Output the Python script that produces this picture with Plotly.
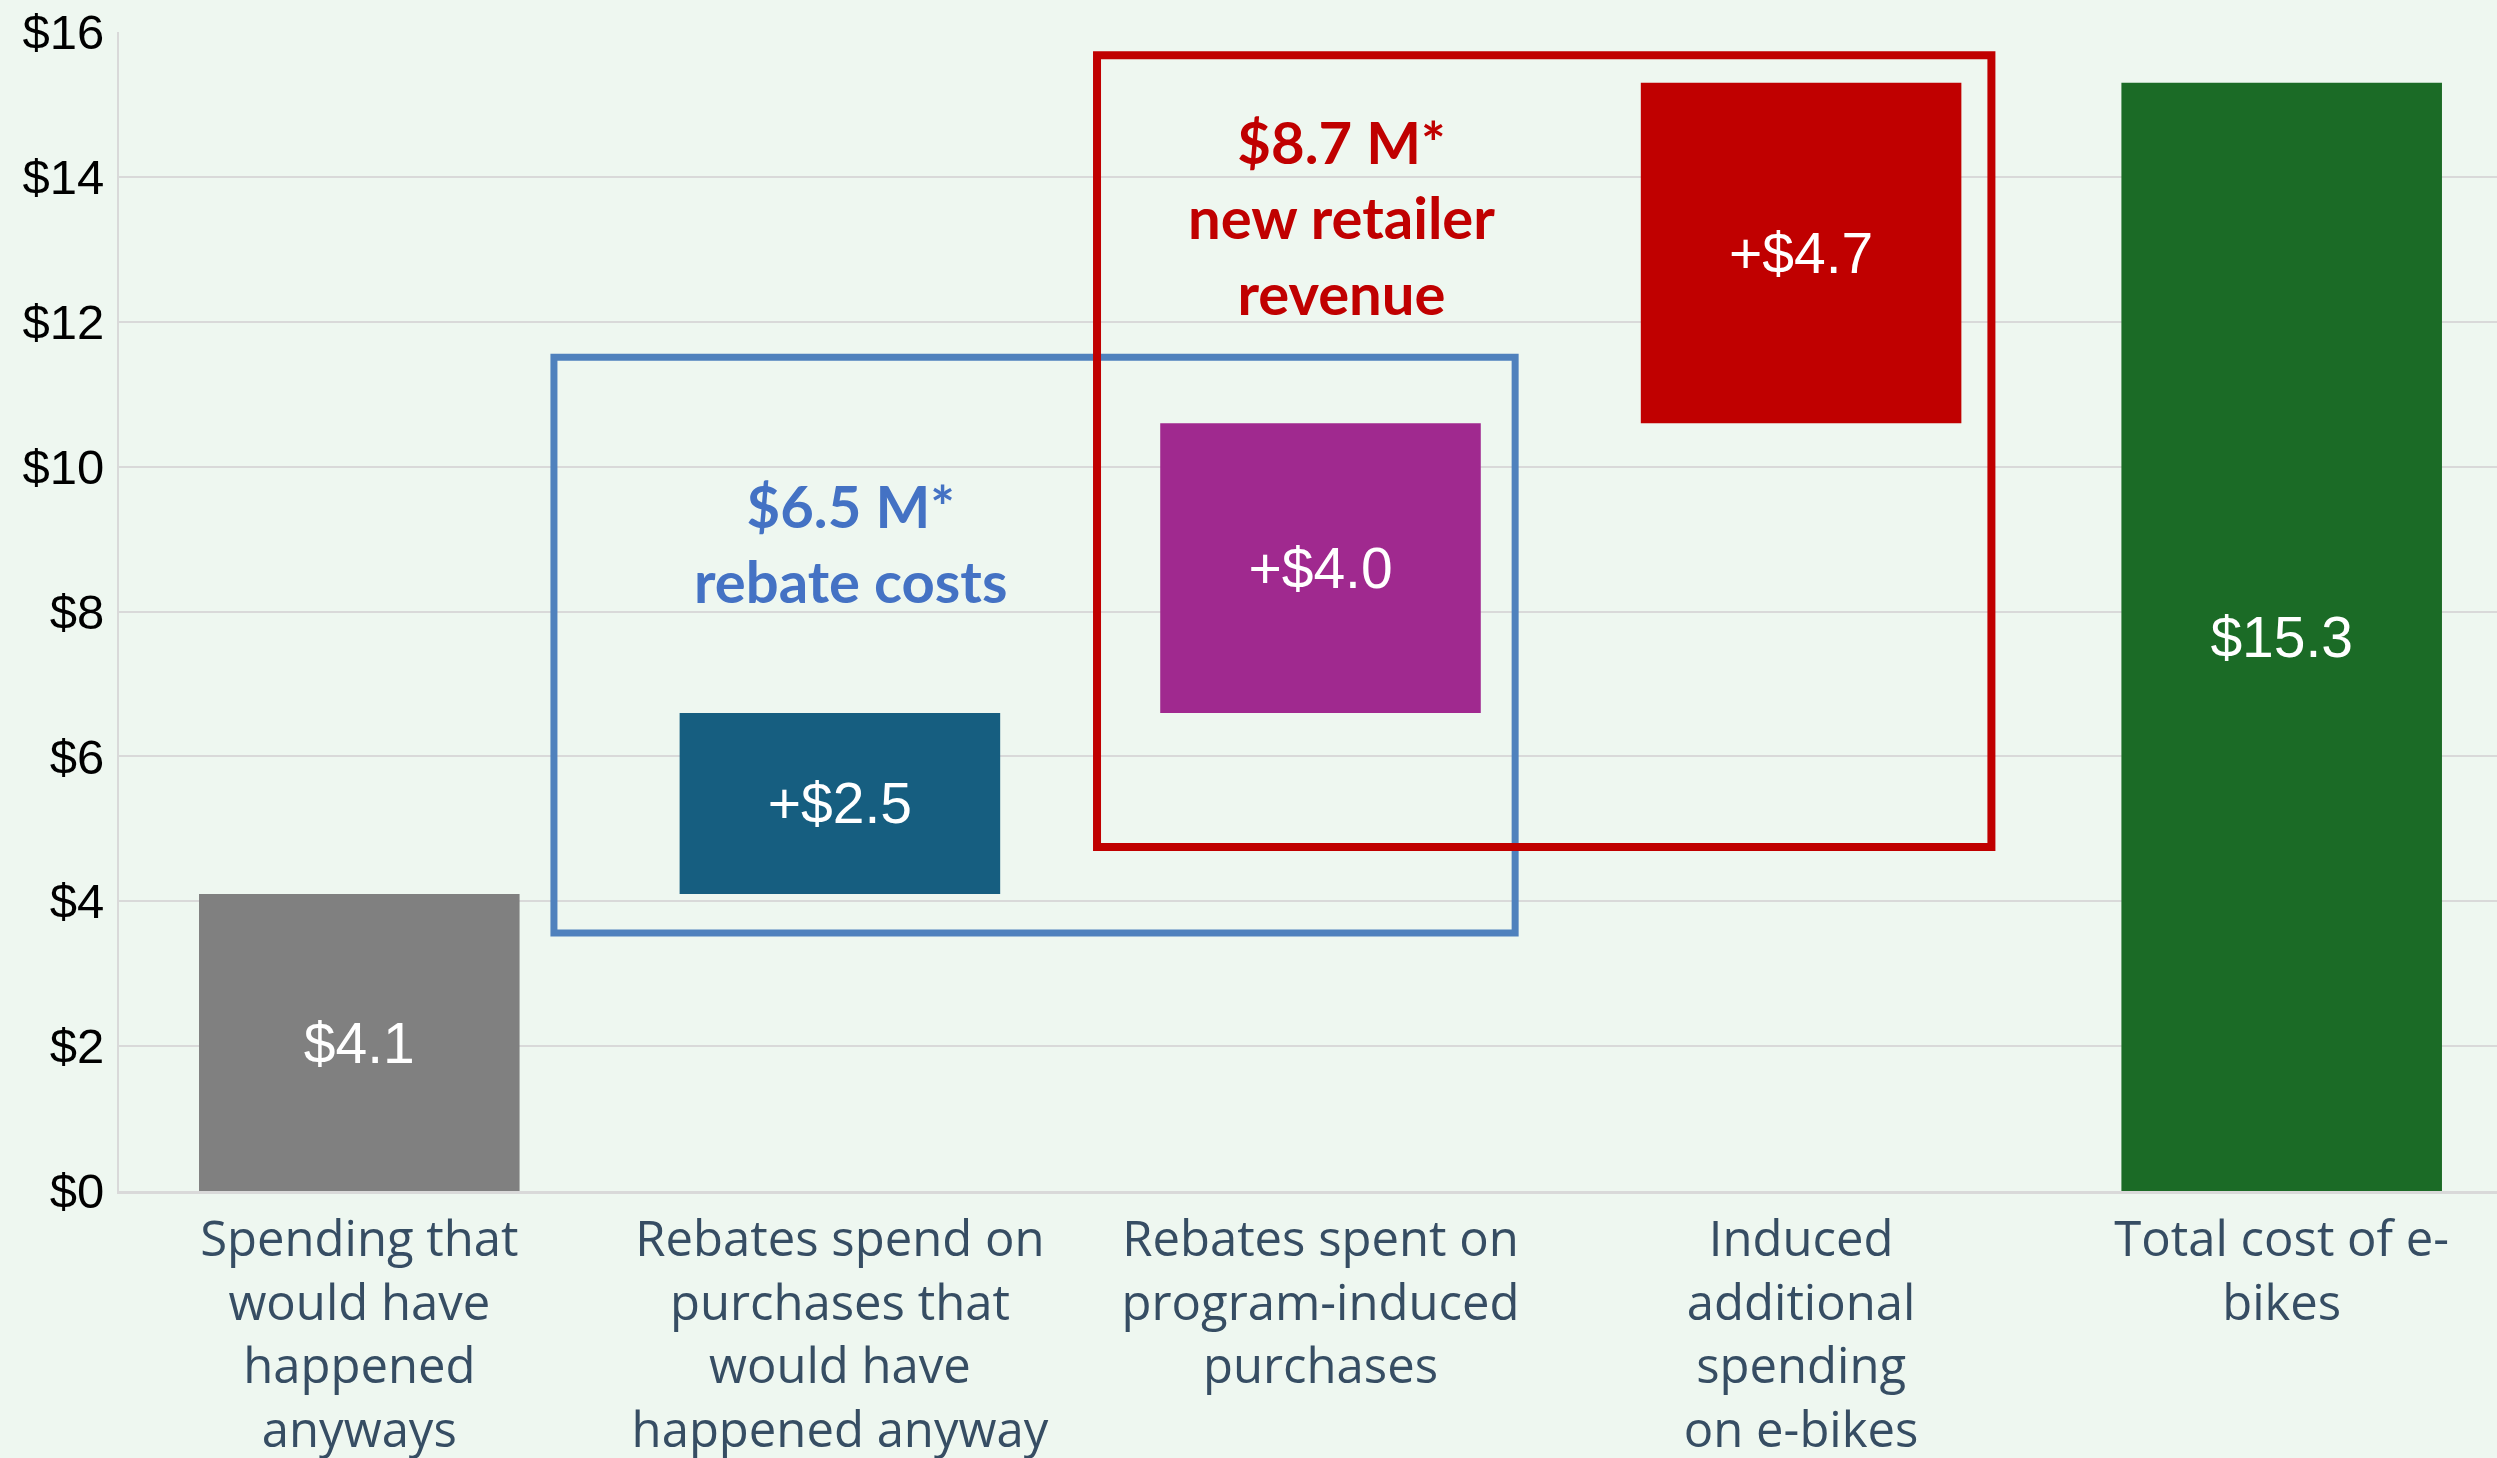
import plotly.graph_objects as go

# ---- data ----
categories = [
    "Spending that<br>would have<br>happened<br>anyways",
    "Rebates spend on<br>purchases that<br>would have<br>happened anyway",
    "Rebates spent on<br>program-induced<br>purchases",
    "Induced<br>additional<br>spending<br>on e-bikes",
    "Total cost of e-<br>bikes",
]
values = [4.1, 2.5, 4.0, 4.7, 15.3]
kinds = ["start", "step", "step", "step", "total"]
bar_colors = ["#808080", "#165E80", "#A0298F", "#C00000", "#1B6B26"]
y_ticks = [0, 2, 4, 6, 8, 10, 12, 14, 16]
y_ticktext = ["$" + str(v) for v in y_ticks]

# waterfall bases
bases = []
running = 0.0
for v, k in zip(values, kinds):
    if k == "step":
        bases.append(running)
        running += v
    elif k == "start":
        bases.append(0)
        running = v
    else:
        bases.append(0)
labels = [("+$%.1f" if k == "step" else "$%.1f") % v for v, k in zip(values, kinds)]

BG = "#EEF7F0"

fig = go.Figure()
fig.add_trace(go.Bar(
    x=categories, y=values, base=bases,
    marker=dict(color=bar_colors, line=dict(width=0)),
    text=labels, textposition="inside", insidetextanchor="middle",
    textfont=dict(family="Liberation Sans, Arial, sans-serif", size=57, color="white"),
    textangle=0, constraintext="none",
    width=0.667, hoverinfo="skip", showlegend=False,
))

# annotation boxes
fig.add_shape(type="rect", xref="x", yref="y", x0=0.405, x1=2.405, y0=3.56, y1=11.51,
              line=dict(color="#4F81BD", width=7), fillcolor="rgba(0,0,0,0)", layer="above")
fig.add_shape(type="rect", xref="x", yref="y", x0=1.535, x1=3.396, y0=4.75, y1=15.68,
              line=dict(color="#C00000", width=8), fillcolor="rgba(0,0,0,0)", layer="above")

fig.add_annotation(x=1.023, y=8.95, xref="x", yref="y", showarrow=False,
                   text="<b>$6.5 M*<br>rebate costs</b>",
                   font=dict(family="Lato, sans-serif", size=58, color="#4472C4"),
                   align="center")
fig.add_annotation(x=2.044, y=13.45, xref="x", yref="y", showarrow=False,
                   text="<b>$8.7 M*<br>new retailer<br>revenue</b>",
                   font=dict(family="Lato, sans-serif", size=58, color="#C00000"),
                   align="center")

fig.update_layout(
    width=2497, height=1458,
    paper_bgcolor=BG, plot_bgcolor=BG,
    margin=dict(l=119, r=0, t=32, b=267, autoexpand=False),
    bargap=0.333,
)
fig.update_xaxes(
    type="category", range=[-0.5, 4.448], automargin=False,
    showgrid=False, showline=True, linecolor="#D9D9D9", linewidth=3,
    ticks="", ticklabelstandoff=3,
    tickfont=dict(family="Open Sans, sans-serif", size=49, color="#364D63"),
)
fig.update_yaxes(
    range=[0, 16], tickvals=y_ticks, ticktext=y_ticktext, automargin=False,
    showgrid=True, gridcolor="#D9D9D9", gridwidth=2,
    showline=True, linecolor="#D9D9D9", linewidth=2,
    zeroline=False, ticks="", ticklabelstandoff=3,
    tickfont=dict(family="Liberation Sans, Arial, sans-serif", size=49, color="black"),
)

fig.write_html(
    "out.html",
    config={"displayModeBar": False},
    post_script="document.body.style.margin='0';document.body.style.background='" + BG + "';document.body.style.overflow='hidden';",
)
